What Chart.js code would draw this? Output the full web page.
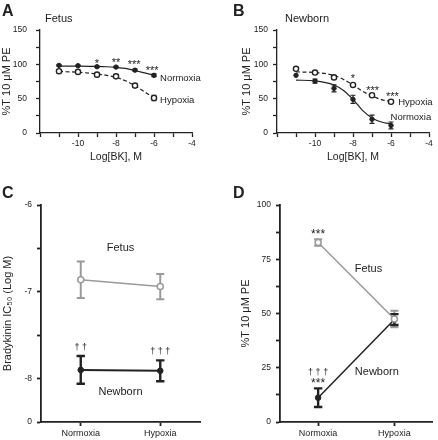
<!DOCTYPE html>
<html>
<head>
<meta charset="utf-8">
<script src="https://cdn.jsdelivr.net/npm/chart.js@4.4.1/dist/chart.umd.min.js"></script>
<style>
  html, body { margin: 0; padding: 0; background: #fff; }
  #wrap { position: relative; width: 438px; height: 440px; overflow: hidden; }
  canvas { position: absolute; }
</style>
</head>
<body>
<div id="wrap">
  <canvas id="chartA" width="219" height="163" style="left:0;top:0"></canvas>
  <canvas id="chartB" width="219" height="163" style="left:219px;top:0"></canvas>
  <canvas id="chartC" width="219" height="277" style="left:0;top:163px"></canvas>
  <canvas id="chartD" width="219" height="277" style="left:219px;top:163px"></canvas>
</div>
<script>
// --- data ---
const doses = [-11, -10, -9, -8, -7, -6];
const fitDoses = [-11, -10, -9, -8.5, -8, -7.5, -7, -6.5, -6];

// A: fetus
const fetusNormoxia = [98.5, 98, 96.5, 96, 91.5, 84];
const fetusNormoxiaErr = [1, 1, 1, 1, 1.5, 2];
const fetusHypoxia = [90, 89, 85, 82.5, 69, 51];
const fetusHypoxiaErr = [2, 2, 2, 2, 2.5, 4];
const fetusNormoxiaFit = [97.5, 97.5, 97, 96.5, 95.5, 94, 91, 87.5, 84];
const fetusHypoxiaFit = [89.5, 88.5, 86, 84, 81, 76, 69, 60, 51];

// B: newborn
const newbornNormoxia = [84, 75.5, 65, 49, 20, 11];
const newbornNormoxiaErr = [0, 3, 5, 6, 6, 5];
const newbornHypoxia = [93.5, 88, 81, 70, 55, 45.5];
const newbornHypoxiaErr = [1, 1.5, 2, 2, 2, 2];
const newbornNormoxiaFit = [77, 76, 70, 62, 49, 33, 22, 16, 13];
const newbornHypoxiaFit = [89, 88, 84, 78, 70, 61, 54, 48.5, 46];

// C: IC50
const groups = ['Normoxia', 'Hypoxia'];
const ic50Fetus = [-6.86, -6.94];
const ic50FetusErr = [0.21, 0.145];
const ic50Newborn = [-7.9, -7.91];
const ic50NewbornErr = [0.16, 0.12];

// D: %T at 10 uM PE
const peFetus = [82.7, 47.5];
const peFetusErr = [1.5, 3.8];
const peNewborn = [11.2, 47.2];
const peNewbornErr = [4.3, 2.5];

const INK = '#222';
const GREY = '#9a9a9a';
const FONT = "'Liberation Sans', Arial, Helvetica, sans-serif";
Chart.defaults.font.family = FONT;
Chart.defaults.color = INK;
Chart.defaults.animation = false;

function pts(xs, ys) {
  return xs.map((x, i) => ({ x: x, y: ys[i] }));
}

// error bars drawn under the markers
const errorBars = {
  id: 'errorBars',
  beforeDatasetsDraw(chart) {
    const ctx = chart.ctx;
    const yScale = chart.scales.y;
    chart.data.datasets.forEach((ds, i) => {
      if (!ds.errors) return;
      const meta = chart.getDatasetMeta(i);
      ctx.save();
      ctx.strokeStyle = ds.errColor || ds.borderColor;
      ctx.lineWidth = ds.errWidth || 1.2;
      meta.data.forEach((pt, j) => {
        const e = ds.errors[j];
        if (!e) return;
        const raw = ds.data[j];
        const v = typeof raw === 'object' ? raw.y : raw;
        const top = yScale.getPixelForValue(v + e);
        const bot = yScale.getPixelForValue(v - e);
        const w = ds.capWidth || 2.5;
        ctx.beginPath();
        ctx.moveTo(pt.x, top); ctx.lineTo(pt.x, bot);
        ctx.moveTo(pt.x - w, top); ctx.lineTo(pt.x + w, top);
        ctx.moveTo(pt.x - w, bot); ctx.lineTo(pt.x + w, bot);
        ctx.stroke();
      });
      ctx.restore();
    });
  }
};

// text labels: data-anchored (x,y) or fixed pixel (px,py)
const notes = {
  id: 'notes',
  afterDraw(chart, args, opts) {
    const ctx = chart.ctx;
    (opts.items || []).forEach(n => {
      const size = n.size || 10;
      let x = n.px, y = n.py;
      if (x === undefined) {
        x = chart.scales.x.getPixelForValue(n.x);
        y = chart.scales.y.getPixelForValue(n.y);
      }
      if (n.star) y += size * 0.22;
      ctx.save();
      ctx.font = (n.bold ? 'bold ' : '') + size + 'px ' + FONT;
      ctx.fillStyle = n.color || INK;
      ctx.textAlign = n.align || 'center';
      ctx.textBaseline = 'middle';
      ctx.fillText(n.text, x, y);
      ctx.restore();
    });
  }
};

function fixAxis(size) {
  return function (scale) {
    if (scale.isHorizontal()) scale.height = size; else scale.width = size;
    scale.paddingLeft = 0; scale.paddingRight = 0;
    scale.paddingTop = 0; scale.paddingBottom = 0;
  };
}

function axisStyle(width) {
  return {
    border: { color: INK, width: width },
    grid: { drawOnChartArea: false, drawTicks: true, tickLength: 4, color: INK, tickWidth: width },
  };
}

function dosePanel(id, o) {
  const ax = axisStyle(1.3);
  new Chart(document.getElementById(id), {
    type: 'scatter',
    data: {
      datasets: [
        { data: pts(doses, o.norm), errors: o.normErr, borderColor: INK, backgroundColor: INK,
          pointRadius: 2.2, pointBorderWidth: 1, showLine: false, order: 1 },
        { data: pts(doses, o.hyp), errors: o.hypErr, borderColor: INK, backgroundColor: '#fff',
          pointRadius: 2.6, pointBorderWidth: 1.4, showLine: false, order: 1 },
        { data: pts(fitDoses, o.normFit), borderColor: INK, borderWidth: 1.2, pointRadius: 0,
          showLine: true, cubicInterpolationMode: 'monotone', order: 2 },
        { data: pts(fitDoses, o.hypFit), borderColor: INK, borderWidth: 1.2, borderDash: [4, 2.5],
          pointRadius: 0, showLine: true, cubicInterpolationMode: 'monotone', order: 2 },
      ]
    },
    options: {
      responsive: false,
      layout: { padding: { left: 0, top: 30, right: o.padRight, bottom: 0 } },
      plugins: { legend: { display: false }, tooltip: { enabled: false }, notes: { items: o.notes } },
      scales: {
        x: Object.assign({}, ax, {
          type: 'linear', min: -12, max: -4,
          ticks: { stepSize: 1, padding: 2, font: { size: 8.5 }, color: INK, maxRotation: 0,
            callback: v => (v % 2 === 0 && v !== -12) ? String(v) : '' },
          title: { display: true, text: 'Log[BK], M', font: { size: 10.5 }, color: INK, padding: { top: 0, bottom: 0 } },
          afterFit: fixAxis(30),
        }),
        y: Object.assign({}, ax, {
          min: 0, max: 150,
          ticks: { stepSize: 25, padding: o.yPad, font: { size: 8.5 }, color: INK,
            callback: v => v % 50 === 0 ? String(v) : '' },
          title: { display: true, text: '%T 10 \u03bcM PE', font: { size: 11 }, color: INK,
            padding: { top: o.titlePad, bottom: 0 } },
          afterFit: fixAxis(o.left),
        }),
      }
    },
    plugins: [errorBars, notes]
  });
}

dosePanel('chartA', {
  norm: fetusNormoxia, normErr: fetusNormoxiaErr, hyp: fetusHypoxia, hypErr: fetusHypoxiaErr,
  normFit: fetusNormoxiaFit, hypFit: fetusHypoxiaFit,
  left: 40, padRight: 27, yPad: 9, titlePad: 0,
  notes: [
    { px: 2, py: 12, text: 'A', size: 16, bold: true, align: 'left' },
    { px: 45, py: 19, text: 'Fetus', size: 11, align: 'left' },
    { x: -9, y: 104, text: '*', size: 11, star: true },
    { x: -8, y: 105, text: '**', size: 11, star: true },
    { x: -7.05, y: 102, text: '***', size: 11, star: true },
    { x: -6.1, y: 94, text: '***', size: 11, star: true },
    { x: -5.68, y: 80, text: 'Normoxia', size: 9.5, align: 'left' },
    { x: -5.68, y: 47, text: 'Hypoxia', size: 9.5, align: 'left' },
  ]
});

dosePanel('chartB', {
  norm: newbornNormoxia, normErr: newbornNormoxiaErr, hyp: newbornHypoxia, hypErr: newbornHypoxiaErr,
  normFit: newbornNormoxiaFit, hypFit: newbornHypoxiaFit,
  left: 58, padRight: 9, yPad: 5, titlePad: 21,
  notes: [
    { px: 14, py: 12, text: 'B', size: 16, bold: true, align: 'left' },
    { px: 66, py: 18.5, text: 'Newborn', size: 11, align: 'left' },
    { x: -8, y: 82, text: '*', size: 11, star: true },
    { x: -6.97, y: 65, text: '***', size: 11, star: true },
    { x: -5.93, y: 56, text: '***', size: 11, star: true },
    { x: -5.62, y: 44.7, text: 'Hypoxia', size: 9.5, align: 'left' },
    { x: -6.02, y: 22.8, text: 'Normoxia', size: 9.5, align: 'left' },
  ]
});

function groupPanel(id, o) {
  const ax = axisStyle(1.8);
  new Chart(document.getElementById(id), {
    type: 'line',
    data: {
      labels: groups,
      datasets: [
        { data: o.fetus, errors: o.fetusErr, borderColor: GREY, backgroundColor: '#fff',
          borderWidth: 1.5, pointRadius: 3, pointBorderWidth: 1.5, errWidth: 2, capWidth: 4 },
        { data: o.newborn, errors: o.newbornErr, borderColor: INK, backgroundColor: INK,
          borderWidth: o.newbornWidth, pointRadius: 2.8, pointBorderWidth: 1, errWidth: 2.4, capWidth: 4.2 },
      ]
    },
    options: {
      responsive: false,
      layout: { padding: { left: 0, top: 42, right: o.padRight, bottom: 0 } },
      plugins: { legend: { display: false }, tooltip: { enabled: false }, notes: { items: o.notes } },
      scales: {
        x: Object.assign({}, ax, {
          type: 'category', offset: true,
          ticks: { padding: 2, font: { size: 9 }, color: INK, maxRotation: 0 },
          afterFit: fixAxis(18),
        }),
        y: Object.assign({}, ax, o.y, {
          title: { display: true, text: o.yTitle, font: { size: 11 }, color: INK,
            padding: { top: o.titlePad, bottom: 0 } },
          afterFit: fixAxis(o.left),
        }),
      }
    },
    plugins: [errorBars, notes]
  });
}

groupPanel('chartC', {
  fetus: ic50Fetus, fetusErr: ic50FetusErr, newborn: ic50Newborn, newbornErr: ic50NewbornErr,
  newbornWidth: 2, left: 41, padRight: 19, titlePad: 1,
  yTitle: 'Bradykinin IC\u2085\u2080 (Log M)',
  y: {
    min: -8.5, max: -6,
    ticks: { stepSize: 0.5, padding: 5, font: { size: 8.5 }, color: INK,
      callback: v => {
        const r = Math.round(v * 2) / 2;
        if (r === -8.5) return '0';
        return Number.isInteger(r) ? String(r) : '';
      } },
  },
  notes: [
    { px: 2, py: 31, text: 'C', size: 16, bold: true, align: 'left' },
    { x: 0.5, y: -6.5, text: 'Fetus', size: 11 },
    { x: 0.5, y: -8.15, text: 'Newborn', size: 11 },
    { x: 0, y: -7.64, text: '\u2020 \u2020', size: 9 },
    { x: 1, y: -7.69, text: '\u2020 \u2020 \u2020', size: 9 },
  ]
});

groupPanel('chartD', {
  fetus: peFetus, fetusErr: peFetusErr, newborn: peNewborn, newbornErr: peNewbornErr,
  newbornWidth: 1.5, left: 61, padRight: 0, titlePad: 20,
  yTitle: '%T 10 \u03bcM PE',
  y: {
    min: 0, max: 100,
    ticks: { stepSize: 12.5, padding: 5, font: { size: 8.5 }, color: INK,
      callback: v => v % 25 === 0 ? String(v) : '' },
  },
  notes: [
    { px: 14, py: 31, text: 'D', size: 16, bold: true, align: 'left' },
    { x: 0, y: 87.6, text: '***', size: 12, star: true },
    { x: 0.66, y: 70.4, text: 'Fetus', size: 11 },
    { x: 0.77, y: 23.1, text: 'Newborn', size: 11 },
    { x: 0, y: 22.8, text: '\u2020 \u2020 \u2020', size: 9 },
    { x: 0, y: 19, text: '***', size: 12, star: true },
  ]
});
</script>
</body>
</html>
